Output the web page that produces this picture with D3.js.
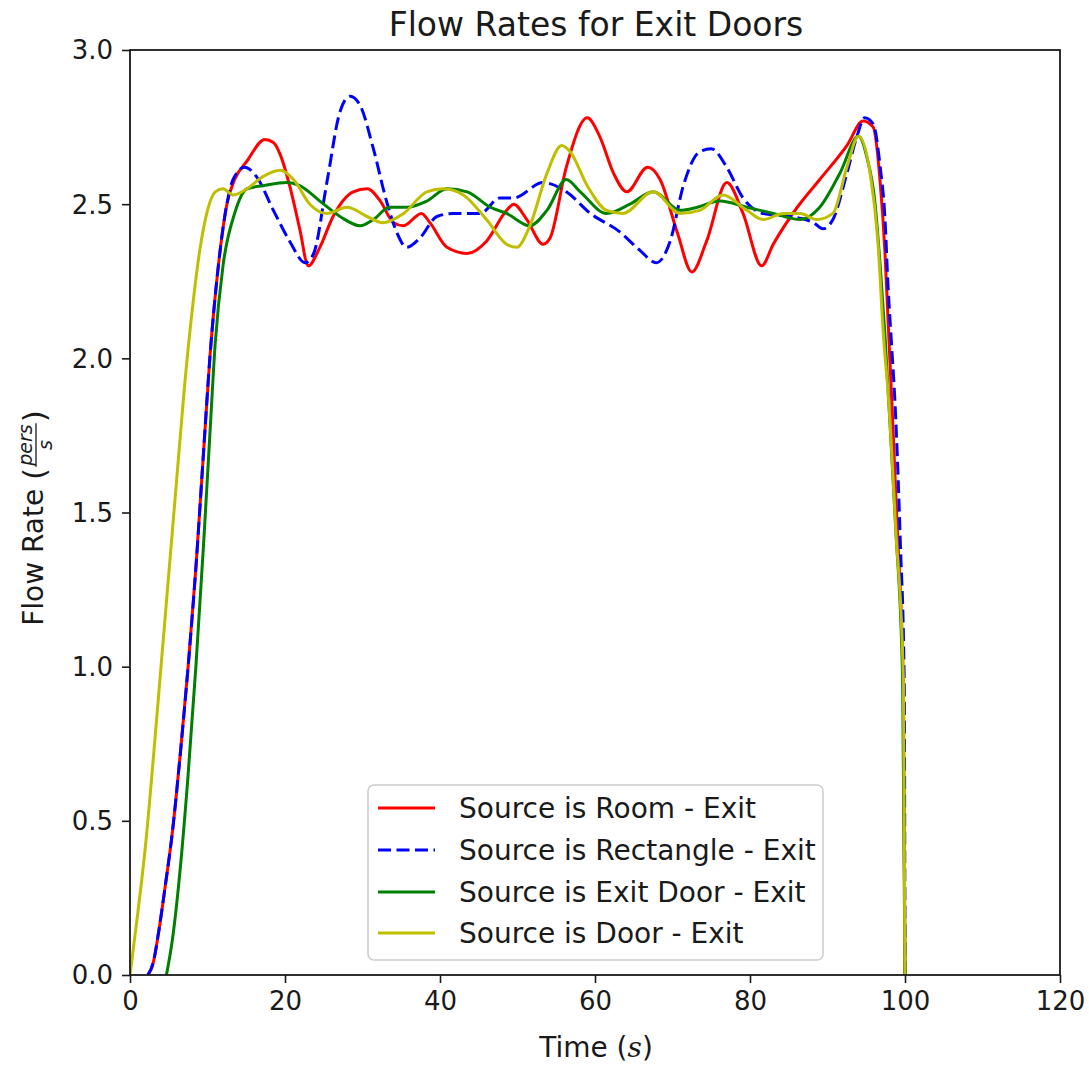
<!DOCTYPE html>
<html>
<head>
<meta charset="utf-8">
<script src="https://cdn.jsdelivr.net/npm/d3@7"></script>
<style>
  html, body { margin: 0; padding: 0; background: #fff; }
  svg text { font-family: "DejaVu Sans", sans-serif; fill: #1a1a1a; }
</style>
</head>
<body>
<svg id="chart" width="1089" height="1066"></svg>
<script>
// ---------- data (time in s, flow rate in pers/s) ----------
const seriesNames = [
  "Source is Room - Exit",
  "Source is Rectangle - Exit",
  "Source is Exit Door - Exit",
  "Source is Door - Exit"
];
const seriesColors = ["#ff0000", "#0000ff", "#008000", "#bfbf00"];
const seriesDashed = [false, true, false, false];

const roomExit = [
  [2.3,0],[3,0.04],[3.7,0.14],[4.5,0.28],[5.5,0.47],[6.5,0.72],[7.5,1.0],[8.5,1.32],[9.5,1.7],[10.3,2.0],
  [11.4,2.3],[12.5,2.5],[13.5,2.58],[15.1,2.64],[17.4,2.71],[18.5,2.70],[19.4,2.66],[20.6,2.56],[21.9,2.42],
  [23.0,2.30],[24.5,2.36],[26.2,2.46],[28.8,2.54],[30.6,2.55],[32.3,2.51],[34.0,2.44],[35.3,2.43],[37.6,2.47],
  [38.7,2.44],[40.9,2.36],[43.5,2.34],[46.0,2.38],[48.6,2.48],[49.5,2.50],[51.2,2.45],[53.3,2.37],[54.2,2.39],
  [56.3,2.62],[59.0,2.78],[60.6,2.72],[62.4,2.60],[64.1,2.54],[66.8,2.62],[68.4,2.58],[70.6,2.41],[72.5,2.28],
  [74.4,2.38],[77.0,2.57],[79.1,2.47],[81.5,2.30],[83.0,2.37],[86.1,2.49],[89.0,2.58],[92.5,2.69],[94.6,2.77],
  [95.9,2.75],[96.8,2.57],[97.4,2.35],[97.8,2.13],[98.3,1.86],[99.0,1.45],[99.8,0.92],[100,0]
];
const rectangleExit = [
  [2.3,0],[3,0.04],[3.7,0.14],[4.5,0.28],[5.5,0.47],[6.5,0.72],[7.5,1.0],[8.5,1.32],[9.5,1.7],[10.3,2.0],
  [11.4,2.3],[12.5,2.5],[13.3,2.58],[14.8,2.62],[16.3,2.59],[18.5,2.48],[20.6,2.38],[22.6,2.31],[23.7,2.34],
  [25.4,2.57],[27.1,2.80],[28.4,2.85],[29.7,2.82],[31.4,2.68],[33.1,2.51],[34.4,2.41],[35.7,2.36],[37.4,2.39],
  [39.6,2.46],[41.7,2.47],[45.2,2.47],[47.7,2.52],[49.5,2.52],[53.3,2.57],[56.3,2.54],[59.4,2.47],[63.2,2.41],
  [65.8,2.35],[67.9,2.31],[69.7,2.38],[71.4,2.56],[73.5,2.67],[75.0,2.68],[77.0,2.62],[79.1,2.52],[81.7,2.47],
  [85.2,2.46],[88.2,2.44],[89.4,2.42],[90.7,2.45],[92.5,2.60],[93.8,2.72],[94.8,2.78],[95.9,2.76],[96.8,2.62],
  [97.4,2.46],[97.8,2.24],[98.3,2.03],[98.7,1.86],[99.4,1.4],[99.9,0.95],[100,0]
];
const exitDoorExit = [
  [4.7,0],[5.5,0.12],[6.5,0.35],[7.5,0.65],[8.5,1.0],[9.5,1.4],[10.3,1.75],[11.0,2.05],[12.0,2.3],[13.5,2.47],
  [15.1,2.55],[17.2,2.56],[20.2,2.57],[21.9,2.56],[24.5,2.51],[27.1,2.46],[29.7,2.43],[31.4,2.45],[33.5,2.49],
  [35.7,2.49],[38.3,2.51],[40.9,2.55],[43.5,2.54],[46.5,2.49],[48.6,2.47],[51.6,2.43],[53.8,2.48],[56.3,2.58],
  [58.1,2.54],[61.5,2.47],[64.5,2.50],[67.5,2.54],[71.0,2.48],[73.2,2.49],[76.1,2.51],[79.6,2.49],[83.0,2.47],
  [86.5,2.45],[89.0,2.49],[91.6,2.60],[94.0,2.72],[95.1,2.65],[96.1,2.51],[96.8,2.30],[97.4,2.08],[97.9,1.86],
  [98.8,1.45],[99.7,0.95],[100,0]
];
const doorExit = [
  [0,0],[1,0.2],[2,0.42],[3,0.7],[4,1.0],[5,1.3],[6,1.6],[7,1.9],[8,2.15],[9,2.35],[10,2.48],[11,2.54],
  [12,2.55],[13.3,2.53],[15.1,2.55],[17.2,2.59],[19.4,2.61],[21.1,2.58],[23.2,2.50],[25.4,2.47],[28.0,2.49],
  [30.6,2.46],[32.6,2.44],[35.3,2.47],[38.3,2.54],[40.4,2.55],[43.0,2.53],[46.0,2.45],[48.6,2.37],[49.9,2.36],
  [51.6,2.43],[53.8,2.60],[55.7,2.69],[56.8,2.67],[59.0,2.56],[61.5,2.48],[63.6,2.47],[67.5,2.54],[71.0,2.47],
  [73.5,2.48],[76.5,2.53],[79.6,2.48],[81.7,2.45],[84.3,2.47],[86.5,2.47],[88.6,2.45],[90.7,2.47],[92.5,2.62],
  [94.0,2.72],[95.5,2.60],[96.5,2.38],[97.2,2.08],[97.9,1.86],[98.8,1.45],[99.8,0.95],[100,0]
];
const seriesValues = [roomExit, rectangleExit, exitDoorExit, doorExit];

const xTicks = [0, 20, 40, 60, 80, 100, 120];
const yTicks = [0.0, 0.5, 1.0, 1.5, 2.0, 2.5, 3.0];

// ---------- layout ----------
const svg = d3.select("#chart");
const L = 130, R = 1060, T = 50, B = 975;
const x = d3.scaleLinear().domain([0, 120]).range([L, R]);
const y = d3.scaleLinear().domain([0, 3]).range([B, T]);
const FS = 26, LFS = 28;

// clip
svg.append("defs").append("clipPath").attr("id", "plotclip")
  .append("rect").attr("x", L).attr("y", T).attr("width", R - L).attr("height", B - T);

// lines
const line = d3.line().x(d => x(d[0])).y(d => y(d[1])).curve(d3.curveMonotoneX);
const plot = svg.append("g").attr("clip-path", "url(#plotclip)");
seriesValues.forEach((s, i) => {
  plot.append("path")
    .datum(s)
    .attr("d", line)
    .attr("fill", "none")
    .attr("stroke", seriesColors[i])
    .attr("stroke-width", 3)
    .attr("stroke-linejoin", "round")
    .attr("stroke-dasharray", seriesDashed[i] ? "13,5.5" : null);
});

// axes
const xAxis = d3.axisBottom(x).tickValues(xTicks).tickFormat(d3.format("d")).tickSize(8).tickPadding(7);
const yAxis = d3.axisLeft(y).tickValues(yTicks).tickFormat(d3.format(".1f")).tickSize(8).tickPadding(9);
const gx = svg.append("g").attr("transform", `translate(0,${B})`).call(xAxis);
const gy = svg.append("g").attr("transform", `translate(${L},0)`).call(yAxis);
[gx, gy].forEach(g => {
  g.select(".domain").remove();
  g.selectAll(".tick line").attr("stroke", "#1a1a1a").attr("stroke-width", 1.6);
  g.selectAll(".tick text").attr("font-size", FS).attr("font-family", "DejaVu Sans").attr("fill", "#1a1a1a");
});
gx.selectAll(".tick text").attr("dy", "0.78em");
gy.selectAll(".tick text").attr("dy", "0.34em");

// frame
svg.append("rect").attr("x", L).attr("y", T).attr("width", R - L).attr("height", B - T)
  .attr("fill", "none").attr("stroke", "#1a1a1a").attr("stroke-width", 1.8);

// title
svg.append("text").attr("x", 596).attr("y", 36).attr("text-anchor", "middle")
  .attr("font-size", 33).text("Flow Rates for Exit Doors");

// x label
const xl = svg.append("text").attr("x", 596).attr("y", 1057).attr("text-anchor", "middle")
  .attr("font-size", LFS);
xl.append("tspan").text("Time (");
xl.append("tspan").attr("font-style", "italic").attr("font-family", "DejaVu Serif").text("s");
xl.append("tspan").text(")");

// y label with fraction
const yl = svg.append("g").attr("transform", "translate(43,518) rotate(-90)");
const t1 = yl.append("text").attr("font-size", LFS).attr("xml:space", "preserve").text("Flow Rate ");
const w1 = t1.node().getComputedTextLength();
const pOpen = yl.append("text").attr("font-size", 31).text("(");
const wpo = pOpen.node().getComputedTextLength();
const num = yl.append("text").attr("font-size", 19).attr("font-style", "italic").attr("font-family", "DejaVu Serif").attr("text-anchor", "middle").text("pers");
const wn = num.node().getComputedTextLength();
const den = yl.append("text").attr("font-size", 19).attr("font-style", "italic").attr("font-family", "DejaVu Serif").attr("text-anchor", "middle").text("s");
const pClose = yl.append("text").attr("font-size", 31).text(")");
const wpc = pClose.node().getComputedTextLength();
const wf = wn + 4;
const total = w1 + wpo + wf + wpc;
let cx = -total / 2;
t1.attr("x", cx).attr("y", 0); cx += w1;
pOpen.attr("x", cx).attr("y", 2); cx += wpo;
num.attr("x", cx + wf / 2).attr("y", -11);
yl.append("line").attr("x1", cx + 1).attr("x2", cx + wf - 1).attr("y1", -7).attr("y2", -7)
  .attr("stroke", "#1a1a1a").attr("stroke-width", 1.3);
den.attr("x", cx + wf / 2).attr("y", 9); cx += wf;
pClose.attr("x", cx).attr("y", 2);

// legend
const lg = svg.append("g");
lg.append("rect").attr("x", 368).attr("y", 785).attr("width", 455).attr("height", 175)
  .attr("rx", 6).attr("fill", "#fff").attr("fill-opacity", 0.85)
  .attr("stroke", "#cccccc").attr("stroke-width", 1.5);
const rowY = [808, 850, 892, 933];
seriesNames.forEach((n, i) => {
  lg.append("line").attr("x1", 378).attr("x2", 435).attr("y1", rowY[i]).attr("y2", rowY[i])
    .attr("stroke", seriesColors[i]).attr("stroke-width", 3)
    .attr("stroke-dasharray", seriesDashed[i] ? "13,5.5" : null);
  lg.append("text").attr("x", 459).attr("y", rowY[i]).attr("dy", "0.36em")
    .attr("font-size", LFS).text(n);
});
</script>
</body>
</html>
